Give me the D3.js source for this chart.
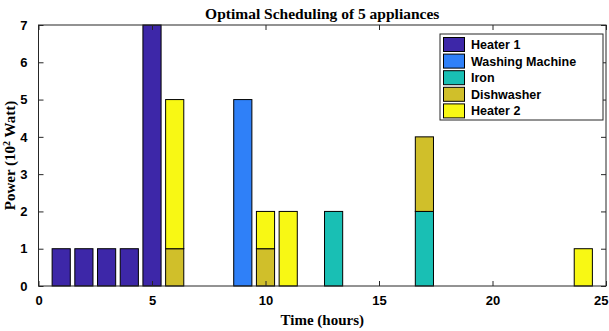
<!DOCTYPE html>
<html>
<head>
<meta charset="utf-8">
<script src="https://cdn.jsdelivr.net/npm/d3@7"></script>
<style>
  body { margin: 0; background: #fff; }
  text { fill: #000; }
</style>
</head>
<body>
<div id="chart"></div>
<script>
var svgWidth = 609;
var svgHeight = 331;

var margin = { top: 25, right: 3, bottom: 45, left: 38.5 };

// data (units of 10^2 W)
var hours = d3.range(1, 25);
var seriesNames = ["Heater 1", "Washing Machine", "Iron", "Dishwasher", "Heater 2"];
var seriesColors = ["#3d27a8", "#2f80f8", "#19bfb4", "#d0bf2a", "#f8f814"];
var heater1 = [1,1,1,1,7,0,0,0,0,0,0,0,0,0,0,0,0,0,0,0,0,0,0,0];
var washing = [0,0,0,0,0,0,0,0,5,0,0,0,0,0,0,0,0,0,0,0,0,0,0,0];
var iron    = [0,0,0,0,0,0,0,0,0,0,0,0,2,0,0,0,2,0,0,0,0,0,0,0];
var dishw   = [0,0,0,0,0,1,0,0,0,1,0,0,0,0,0,0,2,0,0,0,0,0,0,0];
var heater2 = [0,0,0,0,0,4,0,0,0,1,2,0,0,0,0,0,0,0,0,0,0,0,0,1];
var xTicks = [0, 5, 10, 15, 20, 25];
var yTicks = [0, 1, 2, 3, 4, 5, 6, 7];

var allSeries = [heater1, washing, iron, dishw, heater2];

var svg = d3.select("#chart")
  .append("svg")
  .attr("width", svgWidth)
  .attr("height", svgHeight);

var totalwidth = svgWidth - margin.left - margin.right;
var totalheight = svgHeight - margin.top - margin.bottom;

var chart = svg.append("g")
  .attr("transform", `translate(${margin.left}, ${margin.top})`);

var xScale = d3.scaleLinear().domain([0, 25]).range([0, totalwidth]);
var yScale = d3.scaleLinear().domain([0, 7]).range([totalheight, 0]);

// build stack table
var table = hours.map(function(h, i) {
  var row = { hour: h };
  seriesNames.forEach(function(n, k) { row[n] = allSeries[k][i]; });
  return row;
});
var stacked = d3.stack().keys(seriesNames)(table);

var barW = xScale(0.8) - xScale(0);

var defs = svg.append("defs");
defs.append("clipPath").attr("id", "clip")
  .append("rect").attr("x", 0).attr("y", -1).attr("width", totalwidth).attr("height", totalheight + 2);

var bars = chart.append("g").attr("clip-path", "url(#clip)");

stacked.forEach(function(layer, k) {
  bars.append("g")
    .selectAll("rect")
    .data(layer)
    .enter()
    .append("rect")
    .attr("x", d => xScale(d.data.hour) - barW / 2)
    .attr("y", d => yScale(d[1]))
    .attr("width", barW)
    .attr("height", d => yScale(d[0]) - yScale(d[1]))
    .attr("fill", seriesColors[k])
    .attr("stroke", "#000")
    .attr("stroke-width", 1);
});

// axes box
chart.append("rect")
  .attr("x", 0).attr("y", 0)
  .attr("width", totalwidth).attr("height", totalheight)
  .attr("fill", "none").attr("stroke", "#262626").attr("stroke-width", 1);

var tickFont = "'Liberation Sans', Arial, sans-serif";

var xAxis = chart.append("g")
  .attr("transform", `translate(0, ${totalheight})`)
  .call(d3.axisBottom(xScale).tickValues(xTicks).tickSizeInner(-5).tickSizeOuter(0).tickPadding(10));
var xAxisTop = chart.append("g")
  .call(d3.axisTop(xScale).tickValues(xTicks).tickSizeInner(-5).tickSizeOuter(0).tickFormat(""));
var yAxis = chart.append("g")
  .call(d3.axisLeft(yScale).tickValues(yTicks).tickFormat(d3.format("d")).tickSizeInner(-5).tickSizeOuter(0).tickPadding(11));
var yAxisRight = chart.append("g")
  .attr("transform", `translate(${totalwidth}, 0)`)
  .call(d3.axisRight(yScale).tickValues(yTicks).tickSizeInner(-5).tickSizeOuter(0).tickFormat(""));

[xAxis, xAxisTop, yAxis, yAxisRight].forEach(function(a) {
  a.select(".domain").remove();
  a.selectAll("line").attr("stroke", "#262626");
  a.selectAll("text")
    .style("font-family", tickFont)
    .style("font-weight", "bold")
    .style("font-size", "13px")
    .attr("fill", "#000");
});

// keep the last x label inside the page
xAxis.selectAll(".tick text")
  .filter(d => d === 25)
  .attr("text-anchor", "end")
  .attr("x", 2);

// title and labels
var serif = "'Liberation Serif', 'Times New Roman', serif";
svg.append("text")
  .attr("x", margin.left + totalwidth / 2)
  .attr("y", 19)
  .attr("text-anchor", "middle")
  .style("font-family", serif).style("font-weight", "bold").style("font-size", "15.5px")
  .text("Optimal Scheduling of 5 appliances");

svg.append("text")
  .attr("x", margin.left + totalwidth / 2)
  .attr("y", 325)
  .attr("text-anchor", "middle")
  .style("font-family", serif).style("font-weight", "bold").style("font-size", "15px")
  .text("Time (hours)");

var ylab = svg.append("text")
  .attr("transform", `translate(15, ${margin.top + totalheight / 2}) rotate(-90)`)
  .attr("text-anchor", "middle")
  .style("font-family", serif).style("font-weight", "bold").style("font-size", "15px");
ylab.append("tspan").text("Power (10");
ylab.append("tspan").attr("dy", -5).style("font-size", "10px").text("2");
ylab.append("tspan").attr("dy", 5).text(" Watt)");

// legend
var legend = svg.append("g").attr("transform", "translate(440, 34)");
legend.append("rect")
  .attr("width", 163).attr("height", 86)
  .attr("fill", "#fff").attr("stroke", "#262626").attr("stroke-width", 1);

seriesNames.forEach(function(n, k) {
  var row = legend.append("g").attr("transform", `translate(3, ${3 + k * 16.6})`);
  row.append("rect")
    .attr("x", 0.5).attr("y", 0.5)
    .attr("width", 21).attr("height", 14)
    .attr("fill", seriesColors[k]).attr("stroke", "#000");
  row.append("text")
    .attr("x", 28).attr("y", 12)
    .style("font-family", tickFont).style("font-weight", "bold").style("font-size", "12.5px")
    .text(n);
});
</script>
</body>
</html>
